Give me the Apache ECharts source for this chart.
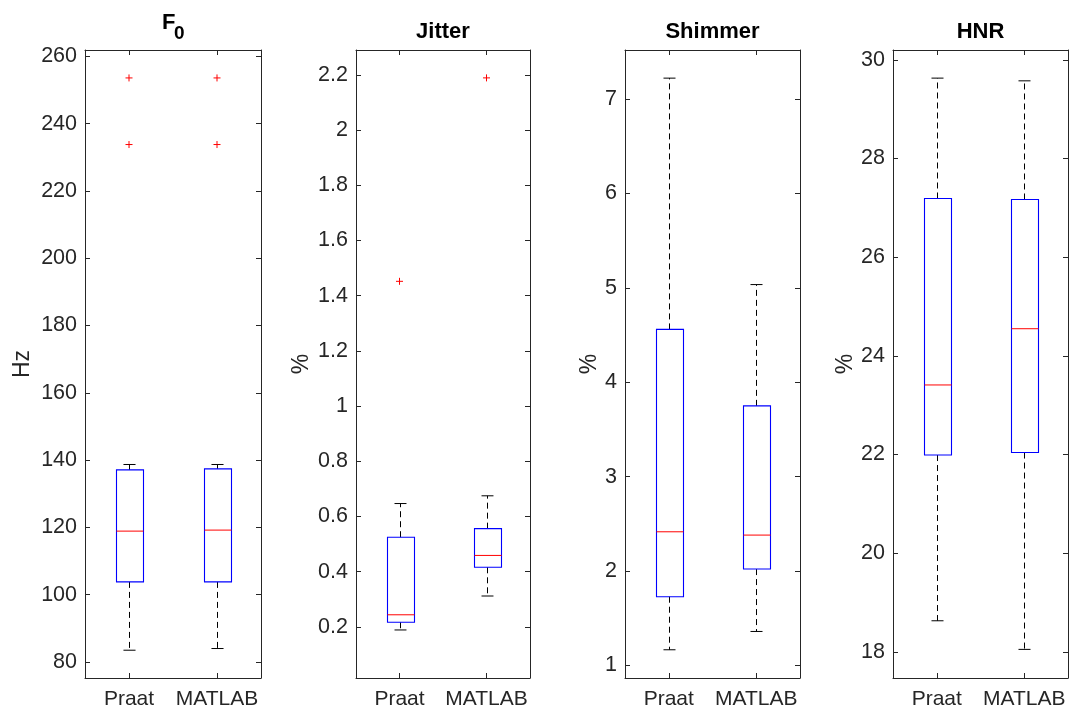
<!DOCTYPE html>
<html>
<head>
<meta charset="utf-8">
<script src="https://cdn.jsdelivr.net/npm/echarts@6/dist/echarts.min.js"></script>
<style>
html,body{margin:0;padding:0;background:#fff;}
#chart{width:1070px;height:710px;}
</style>
</head>
<body>
<div id="chart"></div>
<script>
// ---- data ----
const categories = ['Praat', 'MATLAB'];
// each box: [lower whisker, Q1, median, Q3, upper whisker]
const f0Praat = [83.5, 103.8, 118.9, 137.1, 138.7];
const f0Matlab = [84.0, 103.8, 119.2, 137.4, 138.7];
const f0Outliers = [[0, 253.6], [0, 233.8], [1, 253.6], [1, 233.8]];

const jitterPraat = [0.189, 0.217, 0.244, 0.525, 0.647];
const jitterMatlab = [0.312, 0.416, 0.459, 0.556, 0.675];
const jitterOutliers = [[0, 1.452], [1, 2.189]];

const shimmerPraat = [1.166, 1.728, 2.416, 4.56, 7.222];
const shimmerMatlab = [1.36, 2.021, 2.381, 3.75, 5.035];
const shimmerOutliers = [];

const hnrPraat = [18.63, 21.99, 23.41, 27.19, 29.63];
const hnrMatlab = [18.05, 22.04, 24.55, 27.17, 29.575];
const hnrOutliers = [];

const f0Ticks = [80, 100, 120, 140, 160, 180, 200, 220, 240, 260];
const jitterTicks = [0.2, 0.4, 0.6, 0.8, 1, 1.2, 1.4, 1.6, 1.8, 2, 2.2];
const shimmerTicks = [1, 2, 3, 4, 5, 6, 7];
const hnrTicks = [18, 20, 22, 24, 26, 28, 30];

const titles = ['F0', 'Jitter', 'Shimmer', 'HNR'];
const yNames = ['Hz', '%', '%', '%'];

// ---- layout ----
const FONT = '"Liberation Sans", Helvetica, Arial, sans-serif';
const panels = [
  {left: 85, width: 176, min: 75.24, max: 261.9, ticks: f0Ticks, boxes: [f0Praat, f0Matlab], outliers: f0Outliers, nameGap: 51},
  {left: 356, width: 174, min: 0.015, max: 2.29, ticks: jitterTicks, boxes: [jitterPraat, jitterMatlab], outliers: jitterOutliers, nameGap: 43},
  {left: 625, width: 175, min: 0.867, max: 7.52, ticks: shimmerTicks, boxes: [shimmerPraat, shimmerMatlab], outliers: shimmerOutliers, nameGap: 24},
  {left: 893, width: 175, min: 17.47, max: 30.2, ticks: hnrTicks, boxes: [hnrPraat, hnrMatlab], outliers: hnrOutliers, nameGap: 33}
];
const TOP = 50, BOTTOM = 32;
const AXIS_COLOR = '#262626';

function fmt(v) { return String(parseFloat(Number(v).toFixed(3))); }

function renderBox(params, api) {
  const cat = api.value(0);
  const lo = api.coord([cat, api.value(1)]);
  const q1 = api.coord([cat, api.value(2)]);
  const med = api.coord([cat, api.value(3)]);
  const q3 = api.coord([cat, api.value(4)]);
  const hi = api.coord([cat, api.value(5)]);
  const band = api.size([1, 0])[0];
  const bw = band * 0.305;
  const cap = bw * 0.45;
  const cx = Math.round(lo[0]) + 0.5;
  const x0 = Math.round(cx - bw / 2) + 0.5;
  const x1 = Math.round(cx + bw / 2) + 0.5;
  const wStyle = {stroke: '#000', lineWidth: 1, lineDash: [6, 4]};
  const cStyle = {stroke: '#000', lineWidth: 1};
  return {
    type: 'group',
    children: [
      {type: 'line', shape: {x1: cx, y1: q3[1], x2: cx, y2: hi[1]}, style: wStyle},
      {type: 'line', shape: {x1: cx, y1: q1[1], x2: cx, y2: lo[1]}, style: wStyle},
      {type: 'line', shape: {x1: cx - cap / 2, y1: hi[1], x2: cx + cap / 2, y2: hi[1]}, style: cStyle},
      {type: 'line', shape: {x1: cx - cap / 2, y1: lo[1], x2: cx + cap / 2, y2: lo[1]}, style: cStyle},
      {type: 'rect', shape: {x: x0, y: q3[1], width: x1 - x0, height: q1[1] - q3[1]},
        style: {fill: 'none', stroke: '#0000ff', lineWidth: 1.1}},
      {type: 'line', shape: {x1: x0, y1: med[1], x2: x1, y2: med[1]}, style: {stroke: '#ff0000', lineWidth: 1}}
    ]
  };
}

const grid = [], xAxis = [], yAxis = [], series = [];
panels.forEach((p, k) => {
  grid.push({left: p.left, width: p.width, top: TOP, bottom: BOTTOM, containLabel: false});
  xAxis.push({
    type: 'category', gridIndex: k, data: categories, position: 'bottom',
    axisLine: {show: true, lineStyle: {color: AXIS_COLOR, width: 1}},
    axisTick: {show: true, inside: true, length: 5, alignWithLabel: true, lineStyle: {color: AXIS_COLOR}},
    axisLabel: {show: true, margin: 11, color: AXIS_COLOR, fontSize: 21, fontFamily: FONT, interval: 0},
    splitLine: {show: false}
  });
  xAxis.push({
    type: 'category', gridIndex: k, data: categories, position: 'top',
    axisLine: {show: true, lineStyle: {color: AXIS_COLOR, width: 1}},
    axisTick: {show: true, inside: true, length: 5, alignWithLabel: true, lineStyle: {color: AXIS_COLOR}},
    axisLabel: {show: false},
    splitLine: {show: false}
  });
  yAxis.push({
    type: 'value', gridIndex: k, min: p.min, max: p.max, position: 'left',
    name: yNames[k], nameLocation: 'middle', nameGap: p.nameGap,
    nameTextStyle: {fontSize: 23, color: AXIS_COLOR, fontFamily: FONT},
    axisLine: {show: true, lineStyle: {color: AXIS_COLOR, width: 1}},
    axisTick: {show: true, inside: true, length: 5, customValues: p.ticks, lineStyle: {color: AXIS_COLOR}},
    axisLabel: {show: true, margin: 8, color: AXIS_COLOR, fontSize: 21.5, fontFamily: FONT,
      customValues: p.ticks, formatter: fmt, showMinLabel: true, showMaxLabel: true},
    splitLine: {show: false}
  });
  yAxis.push({
    type: 'value', gridIndex: k, min: p.min, max: p.max, position: 'right',
    axisLine: {show: true, lineStyle: {color: AXIS_COLOR, width: 1}},
    axisTick: {show: true, inside: true, length: 5, customValues: p.ticks, lineStyle: {color: AXIS_COLOR}},
    axisLabel: {show: false},
    splitLine: {show: false}
  });
  series.push({
    type: 'custom', coordinateSystem: 'cartesian2d',
    xAxisIndex: 2 * k, yAxisIndex: 2 * k,
    renderItem: renderBox, clip: false,
    encode: {x: 0, y: [1, 2, 3, 4, 5]},
    data: p.boxes.map((b, i) => [i].concat(b)),
    silent: true, animation: false
  });
  if (p.outliers.length) {
    series.push({
      type: 'scatter', coordinateSystem: 'cartesian2d',
      xAxisIndex: 2 * k, yAxisIndex: 2 * k,
      symbol: 'path://M0,5L10,5M5,0L5,10', symbolSize: 7,
      itemStyle: {color: 'rgba(0,0,0,0)', borderColor: '#ff0000', borderWidth: 1, opacity: 1},
      data: p.outliers,
      silent: true, animation: false, z: 5
    });
  }
});

const graphic = [];
panels.forEach((p, k) => {
  const cx = p.left + p.width / 2;
  if (k === 0) {
    graphic.push({type: 'text', x: cx - 11, y: 22.5, style: {text: 'F', fontSize: 22, fontWeight: 'bold', fontFamily: FONT, fill: '#000', textAlign: 'left', textVerticalAlign: 'middle'}});
    graphic.push({type: 'text', x: cx + 1, y: 33.5, style: {text: '0', fontSize: 19, fontWeight: 'bold', fontFamily: FONT, fill: '#000', textAlign: 'left', textVerticalAlign: 'middle'}});
  } else {
    graphic.push({type: 'text', x: cx, y: 32, style: {text: titles[k], fontSize: 22, fontWeight: 'bold', fontFamily: FONT, fill: '#000', textAlign: 'center', textVerticalAlign: 'middle'}});
  }
});

const chart = echarts.init(document.getElementById('chart'), null, {renderer: 'canvas'});
chart.setOption({
  animation: false,
  backgroundColor: '#fff',
  grid: grid,
  xAxis: xAxis,
  yAxis: yAxis,
  series: series,
  graphic: graphic
});
</script>
</body>
</html>
